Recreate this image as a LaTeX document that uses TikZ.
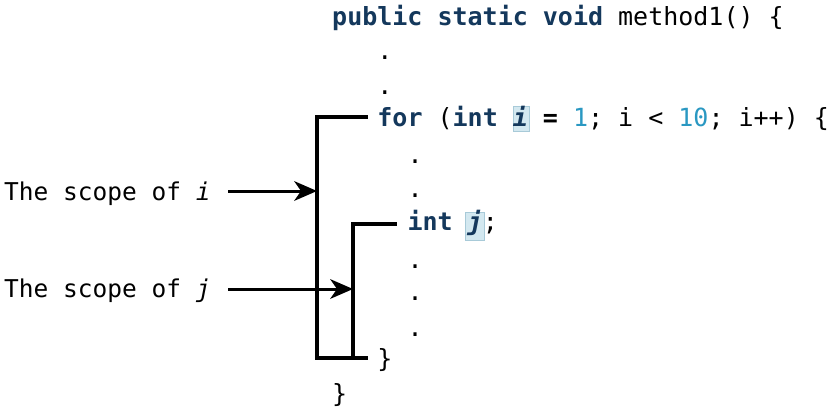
\documentclass[tikz,border=0pt]{standalone}
\usepackage{fontspec}
\setmonofont{DejaVu Sans Mono}
\usetikzlibrary{arrows.meta}
\definecolor{kw}{HTML}{14385C}
\definecolor{num}{HTML}{2A98C2}
\definecolor{hl}{HTML}{D3E8F0}
\definecolor{hlb}{HTML}{A8CAD8}
\newcommand{\kwd}[1]{\textbf{\color{kw}#1}}
\newcommand{\nmb}[1]{\textcolor{num}{#1}}
\tikzset{
  code/.style={anchor=base west, inner sep=0pt, font=\fontsize{25}{25}\ttfamily},
  lbl/.style={anchor=base west, inner sep=0pt, font=\fontsize{24.5}{25}\ttfamily},
  bracket/.style={line width=3.2pt, line cap=rect},
  arr/.style={line width=3pt},
  tipfill/.style={fill=black}
}
\begin{document}
\begin{tikzpicture}[x=1pt,y=-1pt]
\useasboundingbox[fill=white] (0,0) rectangle (830,410);
% highlight boxes
\filldraw[fill=hl, draw=hlb, line width=0.6pt] (513,106) rectangle (529,131);
\filldraw[fill=hl, draw=hlb, line width=0.6pt] (465,212) rectangle (484,240);
% code lines
\node[code] (l1) at (332,25) {\kwd{public static void} method1() \{};
\node[code] (d1) at (377.2,59) {.};
\node[code] (d2) at (377.2,94) {.};
\node[code] (for) at (377.2,126) {\kwd{for} (\kwd{int} \kwd{\itshape i} \textbf{=} \nmb{1}; i < \nmb{10}; i++) \{};
\node[code] (d3) at (407.3,163) {.};
\node[code] (d4) at (407.3,197) {.};
\node[code] (intj) at (407.3,230) {\kwd{int} \kwd{\itshape j};};
\node[code] (d5) at (407.3,268) {.};
\node[code] (d6) at (407.3,300) {.};
\node[code] (d7) at (407.3,336) {.};
\node[code] (c1) at (377.2,367) {\}};
\node[code] (c2) at (332,402) {\}};
% labels
\node[lbl] (li) at (4,200) {The scope of \textit{i}};
\node[lbl] (lj) at (4,297) {The scope of \textit{j}};
% brackets
\coordinate (oT) at (366,117);
\coordinate (oL) at (317,117);
\coordinate (oB) at (317,358);
\coordinate (oBR) at (366,358);
\coordinate (iT) at (395,224);
\coordinate (iL) at (353,224);
\coordinate (iB) at (353,358);
\draw[bracket] (oT) -- (oL) -- (oB) -- (oBR);
\draw[bracket] (iT) -- (iL) -- (iB);
% arrows
\coordinate (ai) at (228,191);
\coordinate (aj) at (228,289);
\draw[arr] (ai) -- ([xshift=-12]oL |- ai);
\fill[tipfill] (oL |- ai) -- ++(-23,-10) -- ++(7,10) -- ++(-7,10) -- cycle;
\draw[arr] (aj) -- ([xshift=-12]iL |- aj);
\fill[tipfill] (iL |- aj) -- ++(-23,-10) -- ++(7,10) -- ++(-7,10) -- cycle;
\end{tikzpicture}
\end{document}
